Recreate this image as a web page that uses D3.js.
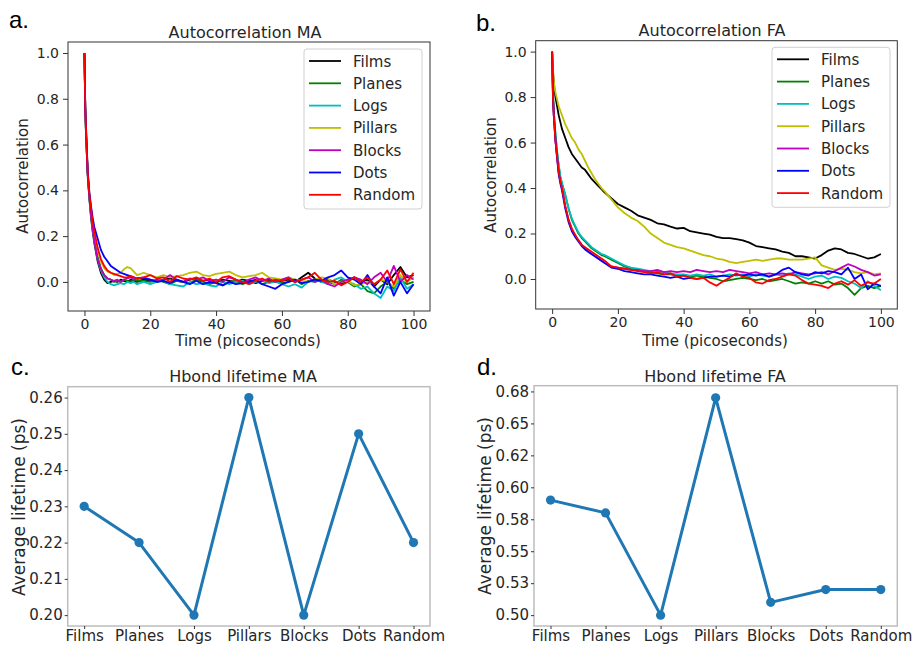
<!DOCTYPE html>
<html>
<head>
<meta charset="utf-8">
<script src="https://cdn.jsdelivr.net/npm/d3@7/dist/d3.min.js"></script>
<style>
  html, body { margin: 0; padding: 0; background: #fff; }
  svg { display: block; font-family: "DejaVu Sans", sans-serif; }
</style>
</head>
<body>
<svg id="fig" width="914" height="646"></svg>
<script>
// ---- shared time axis (picoseconds) for the autocorrelation curves ----
const time = [0, 0.25, 0.5, 1, 1.5, 2, 2.5, 3, 4, 5, 6, 7, 8, 9, 10, 11, 12, 13, 14, 15, 16,
  18, 20, 22, 24, 26, 28, 30, 32, 34, 36, 38, 40, 42, 44, 46, 48, 50, 52, 54, 56, 58,
  60, 62, 64, 66, 68, 70, 72, 74, 76, 78, 80, 82, 84, 86, 88, 90, 92, 94, 96, 98, 100];

const systems = ["Films", "Planes", "Logs", "Pillars", "Blocks", "Dots", "Random"];
const seriesColors = ["#000000", "#008000", "#00bfbf", "#bfbf00", "#bf00bf", "#0000ff", "#ff0000"];

// ---- autocorrelation, MA ----
const maFilms = [1.0, 0.74, 0.63, 0.46, 0.36, 0.28, 0.22, 0.17, 0.09, 0.04, 0.01, -0.005, 0.0, 0.005, 0.0, 0.01, 0.005, 0.0, 0.01, 0.005, 0.0,
  0.01, 0.005, 0.0, 0.01, 0.015, 0.005, 0.0, 0.01, 0.015, 0.005, 0.01, 0.0, 0.01, 0.005, 0.0, 0.01, 0.005, -0.005, 0.005, 0.01, 0.0,
  0.005, 0.01, 0.0, 0.02, 0.04, 0.015, 0.0, 0.01, 0.0, -0.01, 0.005, 0.02, 0.0, 0.01, -0.02, 0.01, -0.01, 0.03, 0.065, 0.02, 0.03];
const maPlanes = [1.0, 0.75, 0.64, 0.47, 0.37, 0.30, 0.24, 0.19, 0.11, 0.06, 0.03, 0.015, 0.01, 0.0, 0.005, 0.0, 0.01, 0.005, 0.0, 0.01, 0.005,
  0.005, 0.0, 0.01, 0.0, -0.01, 0.005, 0.0, -0.005, 0.01, 0.0, -0.01, 0.0, -0.015, 0.0, 0.005, -0.01, 0.0, 0.005, -0.01, 0.0, 0.005,
  -0.005, 0.0, 0.01, -0.01, 0.005, 0.0, 0.01, 0.0, -0.01, 0.01, 0.0, -0.02, -0.01, -0.04, -0.05, -0.02, 0.0, -0.03, 0.01, -0.01, 0.0];
const maLogs = [1.0, 0.75, 0.64, 0.47, 0.37, 0.29, 0.23, 0.18, 0.10, 0.05, 0.02, 0.0, -0.01, -0.015, -0.01, -0.005, -0.01, 0.0, -0.005, 0.0, -0.01,
  0.0, -0.01, 0.0, 0.005, -0.01, -0.015, -0.02, 0.0, -0.01, -0.005, -0.015, -0.02, 0.0, -0.01, 0.0, 0.005, -0.01, 0.0, 0.01, -0.005, 0.0,
  -0.01, -0.02, -0.01, -0.025, 0.0, 0.01, 0.0, -0.01, 0.01, 0.02, 0.0, -0.01, -0.03, -0.02, -0.05, -0.07, -0.02, -0.04, 0.02, -0.03, -0.01];
const maPillars = [1.0, 0.76, 0.65, 0.49, 0.39, 0.32, 0.26, 0.21, 0.14, 0.09, 0.06, 0.045, 0.04, 0.03, 0.035, 0.04, 0.055, 0.065, 0.06, 0.045, 0.03,
  0.04, 0.03, 0.02, 0.03, 0.02, 0.025, 0.03, 0.04, 0.045, 0.03, 0.025, 0.035, 0.04, 0.045, 0.03, 0.02, 0.025, 0.03, 0.04, 0.02, 0.015,
  0.01, 0.02, 0.01, 0.005, 0.0, 0.01, 0.02, 0.015, -0.01, 0.0, 0.005, -0.015, -0.01, 0.0, -0.01, 0.01, 0.0, -0.02, 0.03, 0.0, 0.02];
const maBlocks = [1.0, 0.75, 0.64, 0.47, 0.37, 0.29, 0.23, 0.18, 0.10, 0.055, 0.03, 0.015, 0.01, 0.005, 0.01, 0.0, 0.01, 0.015, 0.02, 0.01, 0.015,
  0.02, 0.01, 0.005, 0.01, 0.03, 0.01, 0.0, 0.015, 0.01, 0.02, 0.005, 0.01, 0.0, 0.02, 0.01, -0.005, 0.01, 0.02, 0.005, 0.015, 0.0,
  0.01, 0.02, 0.0, 0.01, 0.02, 0.0, 0.01, -0.01, -0.02, 0.0, 0.01, 0.02, 0.01, -0.01, 0.02, 0.04, 0.0, 0.07, 0.0, 0.03, 0.01];
const maDots = [1.0, 0.77, 0.67, 0.48, 0.39, 0.33, 0.28, 0.24, 0.19, 0.14, 0.11, 0.09, 0.07, 0.06, 0.05, 0.04, 0.035, 0.03, 0.025, 0.02, 0.015,
  0.015, 0.01, 0.0, 0.005, -0.005, 0.01, 0.0, -0.01, 0.005, -0.01, 0.0, -0.005, -0.015, 0.0, -0.01, -0.005, 0.0, 0.01, -0.01, -0.02, -0.03,
  -0.01, 0.0, 0.01, -0.005, 0.0, 0.01, 0.005, 0.02, 0.03, 0.05, 0.02, 0.01, -0.01, 0.03, -0.02, -0.05, 0.02, -0.06, 0.0, -0.05, -0.01];
const maRandom = [1.0, 0.76, 0.66, 0.47, 0.38, 0.32, 0.26, 0.22, 0.15, 0.10, 0.07, 0.05, 0.04, 0.035, 0.03, 0.025, 0.02, 0.02, 0.025, 0.02, 0.015,
  0.02, 0.03, 0.015, 0.02, 0.0, 0.025, 0.015, 0.01, 0.02, 0.005, 0.015, 0.0, 0.02, 0.025, 0.01, 0.0, -0.01, 0.005, 0.015, 0.0, 0.01,
  0.005, 0.015, 0.0, 0.01, 0.02, 0.04, 0.01, 0.0, 0.005, -0.015, 0.0, 0.02, 0.0, 0.02, -0.01, 0.01, 0.05, -0.01, 0.055, 0.0, 0.04];

// ---- autocorrelation, FA ----
const faFilms = [1.0, 0.92, 0.86, 0.80, 0.76, 0.72, 0.69, 0.66, 0.62, 0.58, 0.55, 0.53, 0.51, 0.49, 0.48, 0.46, 0.44, 0.425, 0.41, 0.395, 0.38,
  0.355, 0.33, 0.315, 0.30, 0.28, 0.27, 0.26, 0.245, 0.24, 0.23, 0.222, 0.225, 0.21, 0.205, 0.20, 0.195, 0.185, 0.18, 0.18, 0.175, 0.17,
  0.16, 0.145, 0.14, 0.135, 0.13, 0.12, 0.115, 0.10, 0.10, 0.095, 0.09, 0.105, 0.125, 0.135, 0.13, 0.115, 0.11, 0.10, 0.09, 0.095, 0.11];
const faPlanes = [1.0, 0.82, 0.74, 0.64, 0.56, 0.50, 0.45, 0.42, 0.37, 0.31, 0.26, 0.23, 0.20, 0.18, 0.165, 0.15, 0.135, 0.125, 0.115, 0.105, 0.10,
  0.085, 0.07, 0.055, 0.045, 0.04, 0.035, 0.03, 0.025, 0.02, 0.02, 0.015, 0.015, 0.01, 0.015, 0.01, 0.005, 0.0, -0.01, -0.005, 0.0, 0.005,
  0.0, -0.005, 0.0, -0.01, -0.005, 0.0, -0.01, -0.02, -0.015, -0.02, -0.01, -0.02, -0.01, -0.025, -0.02, -0.04, -0.07, -0.04, -0.03, -0.04, -0.03];
const faLogs = [1.0, 0.82, 0.74, 0.64, 0.56, 0.50, 0.45, 0.42, 0.37, 0.31, 0.265, 0.235, 0.205, 0.185, 0.17, 0.155, 0.14, 0.13, 0.12, 0.11, 0.105,
  0.09, 0.075, 0.06, 0.05, 0.045, 0.04, 0.035, 0.035, 0.03, 0.025, 0.02, 0.02, 0.015, 0.02, 0.015, 0.02, 0.01, 0.015, 0.02, 0.015, 0.02,
  0.01, 0.02, 0.015, 0.01, 0.02, 0.015, 0.025, 0.02, 0.01, 0.0, 0.01, 0.015, 0.0, 0.01, 0.005, -0.01, -0.02, -0.04, -0.01, -0.03, -0.05];
const faPillars = [1.0, 0.92, 0.87, 0.82, 0.79, 0.76, 0.74, 0.72, 0.68, 0.65, 0.62, 0.60, 0.57, 0.55, 0.52, 0.49, 0.465, 0.44, 0.42, 0.40, 0.385,
  0.35, 0.315, 0.29, 0.27, 0.255, 0.23, 0.20, 0.18, 0.16, 0.15, 0.14, 0.135, 0.125, 0.115, 0.105, 0.10, 0.09, 0.085, 0.075, 0.07, 0.075,
  0.08, 0.085, 0.08, 0.085, 0.09, 0.09, 0.085, 0.085, 0.085, 0.09, 0.095, 0.06, 0.05, 0.04, 0.045, 0.04, 0.03, 0.025, 0.03, 0.02, 0.025];
const faBlocks = [1.0, 0.80, 0.72, 0.61, 0.54, 0.47, 0.43, 0.40, 0.32, 0.26, 0.22, 0.19, 0.17, 0.15, 0.135, 0.12, 0.11, 0.10, 0.09, 0.08, 0.07,
  0.055, 0.05, 0.045, 0.04, 0.04, 0.035, 0.035, 0.04, 0.03, 0.035, 0.03, 0.035, 0.03, 0.04, 0.035, 0.03, 0.035, 0.03, 0.04, 0.035, 0.03,
  0.025, 0.03, 0.02, 0.025, 0.02, 0.025, 0.02, 0.03, 0.025, 0.02, 0.025, 0.03, 0.02, 0.035, 0.05, 0.065, 0.055, 0.04, 0.03, 0.015, 0.02];
const faDots = [1.0, 0.80, 0.72, 0.61, 0.53, 0.46, 0.42, 0.39, 0.31, 0.25, 0.21, 0.185, 0.165, 0.145, 0.13, 0.12, 0.11, 0.10, 0.09, 0.08, 0.07,
  0.05, 0.045, 0.035, 0.03, 0.025, 0.02, 0.02, 0.015, 0.01, 0.005, 0.01, 0.0, 0.005, 0.0, 0.005, 0.01, 0.01, 0.015, 0.01, 0.02, 0.015,
  0.02, 0.015, 0.02, 0.01, 0.02, 0.04, 0.05, 0.03, 0.02, 0.015, 0.03, 0.025, 0.035, 0.03, 0.02, 0.05, 0.0, 0.02, -0.045, -0.02, -0.03];
const faRandom = [1.0, 0.80, 0.72, 0.61, 0.54, 0.47, 0.43, 0.40, 0.32, 0.26, 0.22, 0.195, 0.17, 0.15, 0.14, 0.13, 0.12, 0.11, 0.10, 0.09, 0.08,
  0.055, 0.05, 0.045, 0.04, 0.035, 0.03, 0.025, 0.03, 0.02, 0.025, 0.01, 0.015, 0.005, 0.0, 0.005, -0.015, -0.03, -0.01, 0.005, 0.025, 0.01,
  0.005, -0.015, -0.02, -0.005, 0.0, 0.01, 0.02, 0.015, -0.005, -0.02, -0.025, -0.03, -0.04, -0.02, -0.01, -0.025, -0.005, -0.03, -0.015, -0.02, 0.0];

const maSeries = [maFilms, maPlanes, maLogs, maPillars, maBlocks, maDots, maRandom];
const faSeries = [faFilms, faPlanes, faLogs, faPillars, faBlocks, faDots, faRandom];

// ---- average H-bond lifetimes (ps) ----
const lifetimeMA = [0.23, 0.22, 0.20, 0.26, 0.20, 0.25, 0.22];
const lifetimeFA = [0.59, 0.58, 0.50, 0.67, 0.51, 0.52, 0.52];

// tick values and labels
const acXTicks = [0, 20, 40, 60, 80, 100];
const acYTicks = [0.0, 0.2, 0.4, 0.6, 0.8, 1.0];
const acYLabels = ["0.0", "0.2", "0.4", "0.6", "0.8", "1.0"];
const maLifeTicks = [0.20, 0.21, 0.22, 0.23, 0.24, 0.25, 0.26];
const maLifeLabels = ["0.20", "0.21", "0.22", "0.23", "0.24", "0.25", "0.26"];
const faLifeTicks = [0.500, 0.525, 0.550, 0.575, 0.600, 0.625, 0.650, 0.675];
const faLifeLabels = ["0.50", "0.53", "0.55", "0.58", "0.60", "0.62", "0.65", "0.68"];

const svg = d3.select("#fig");
const TXT = "#262626";

function frame(g, x0, y0, x1, y1, color, width) {
  g.append("rect").attr("x", x0).attr("y", y0).attr("width", x1 - x0).attr("height", y1 - y0)
    .attr("fill", "none").attr("stroke", color).attr("stroke-width", width);
}

function styleAxis(sel, size) {
  sel.select(".domain").remove();
  sel.selectAll(".tick line").attr("stroke", "#333").attr("stroke-width", 1);
  sel.selectAll(".tick text").attr("fill", TXT).attr("font-size", size)
    .attr("font-family", "DejaVu Sans, sans-serif");
}

// ---------- autocorrelation panels ----------
function acPanel(opt) {
  const g = svg.append("g");
  const x = d3.scaleLinear().domain([-5, 105]).range([opt.x0, opt.x1]);
  const y = d3.scaleLinear().domain(opt.yDom).range([opt.y1, opt.y0]);

  const line = d3.line().x((d, i) => x(time[i])).y(d => y(d));
  opt.series.forEach((s, k) => {
    g.append("path").datum(s).attr("d", line).attr("fill", "none")
      .attr("stroke", seriesColors[k]).attr("stroke-width", 1.8)
      .attr("stroke-linejoin", "round");
  });

  frame(g, opt.x0, opt.y0, opt.x1, opt.y1, "#333", 1);

  const ax = g.append("g").attr("transform", `translate(0,${opt.y1})`)
    .call(d3.axisBottom(x).tickValues(acXTicks).tickSize(5).tickPadding(3).tickFormat(d3.format("d")));
  styleAxis(ax, 14);
  const ay = g.append("g").attr("transform", `translate(${opt.x0},0)`)
    .call(d3.axisLeft(y).tickValues(acYTicks).tickSize(5).tickPadding(4).tickFormat((d, i) => acYLabels[i]));
  styleAxis(ay, 14);

  g.append("text").attr("x", opt.titleX).attr("y", opt.titleY).attr("text-anchor", "middle")
    .attr("font-size", 16).attr("fill", TXT).text(opt.title);
  g.append("text").attr("x", opt.xlabX).attr("y", 346).attr("text-anchor", "middle")
    .attr("font-size", 15).attr("fill", TXT).text("Time (picoseconds)");
  g.append("text").attr("transform", `translate(${opt.ylabX},${opt.ylabY}) rotate(-90)`)
    .attr("text-anchor", "middle").attr("font-size", 15).attr("fill", TXT).text("Autocorrelation");

  // legend
  const L = opt.legend;
  g.append("rect").attr("x", L.x).attr("y", L.y).attr("width", 118).attr("height", 160)
    .attr("rx", 3).attr("fill", "#fff").attr("fill-opacity", 0.8)
    .attr("stroke", "#d0d0d0").attr("stroke-width", 1);
  systems.forEach((name, k) => {
    const cy = L.y + 12 + k * 22.3;
    g.append("line").attr("x1", L.x + 5).attr("x2", L.x + 37).attr("y1", cy).attr("y2", cy)
      .attr("stroke", seriesColors[k]).attr("stroke-width", 1.8);
    g.append("text").attr("x", L.x + 49).attr("y", cy + 5.5).attr("font-size", 15)
      .attr("fill", TXT).text(name);
  });
}

acPanel({
  x0: 68, x1: 430, y0: 42, y1: 311, yDom: [-0.127, 1.048], series: maSeries,
  title: "Autocorrelation MA", titleX: 245, titleY: 38, xlabX: 248, ylabX: 28, ylabY: 176,
  legend: { x: 304, y: 49 }
});
acPanel({
  x0: 535.7, x1: 897.3, y0: 40.7, y1: 309, yDom: [-0.132, 1.048], series: faSeries,
  title: "Autocorrelation FA", titleX: 712, titleY: 36, xlabX: 715, ylabX: 496, ylabY: 175,
  legend: { x: 772, y: 47.3 }
});

// ---------- lifetime panels ----------
function lifePanel(opt) {
  const g = svg.append("g");
  const x = d3.scaleLinear().domain([-0.3, 6.3]).range([opt.x0, opt.x1]);
  const y = d3.scaleLinear().domain(opt.yDom).range([opt.y1, opt.y0]);

  frame(g, opt.x0, opt.y0, opt.x1, opt.y1, "#bdbdbd", 1.5);

  const ax = g.append("g").attr("transform", `translate(0,${opt.y1})`)
    .call(d3.axisBottom(x).tickValues(d3.range(systems.length)).tickSize(3).tickPadding(1)
      .tickFormat(i => systems[i]));
  styleAxis(ax, 15);
  const ay = g.append("g").attr("transform", `translate(${opt.x0},0)`)
    .call(d3.axisLeft(y).tickValues(opt.ticks).tickSize(3).tickPadding(2)
      .tickFormat((d, i) => opt.labels[i]));
  styleAxis(ay, 15);

  const line = d3.line().x((d, i) => x(i)).y(d => y(d));
  g.append("path").datum(opt.values).attr("d", line).attr("fill", "none")
    .attr("stroke", "#1f77b4").attr("stroke-width", 3).attr("stroke-linejoin", "round");
  g.selectAll("circle.pt").data(opt.values).join("circle").attr("class", "pt")
    .attr("cx", (d, i) => x(i)).attr("cy", d => y(d)).attr("r", 4.6).attr("fill", "#1f77b4");

  g.append("text").attr("x", opt.titleX).attr("y", 382).attr("text-anchor", "middle")
    .attr("font-size", 16).attr("fill", TXT).text(opt.title);
  g.append("text").attr("transform", `translate(${opt.ylabX},${opt.ylabY}) rotate(-90)`)
    .attr("text-anchor", "middle").attr("font-size", 17).attr("fill", TXT).text("Average lifetime (ps)");
}

lifePanel({
  x0: 67.7, x1: 430, y0: 386.7, y1: 626, yDom: [0.197, 0.263], values: lifetimeMA,
  ticks: maLifeTicks, labels: maLifeLabels, title: "Hbond lifetime MA", titleX: 243,
  ylabX: 25, ylabY: 507
});
lifePanel({
  x0: 534, x1: 897.3, y0: 385.7, y1: 626, yDom: [0.4915, 0.6795], values: lifetimeFA,
  ticks: faLifeTicks, labels: faLifeLabels, title: "Hbond lifetime FA", titleX: 715,
  ylabX: 491, ylabY: 506
});

// panel letters
const letters = [["a.", 9, 28], ["b.", 476, 31], ["c.", 11, 375], ["d.", 477, 375]];
letters.forEach(([t, lx, ly]) => {
  svg.append("text").attr("x", lx).attr("y", ly).attr("font-size", 24)
    .attr("font-family", "Liberation Sans, Arial, sans-serif").attr("fill", "#000").text(t);
});
</script>
</body>
</html>
